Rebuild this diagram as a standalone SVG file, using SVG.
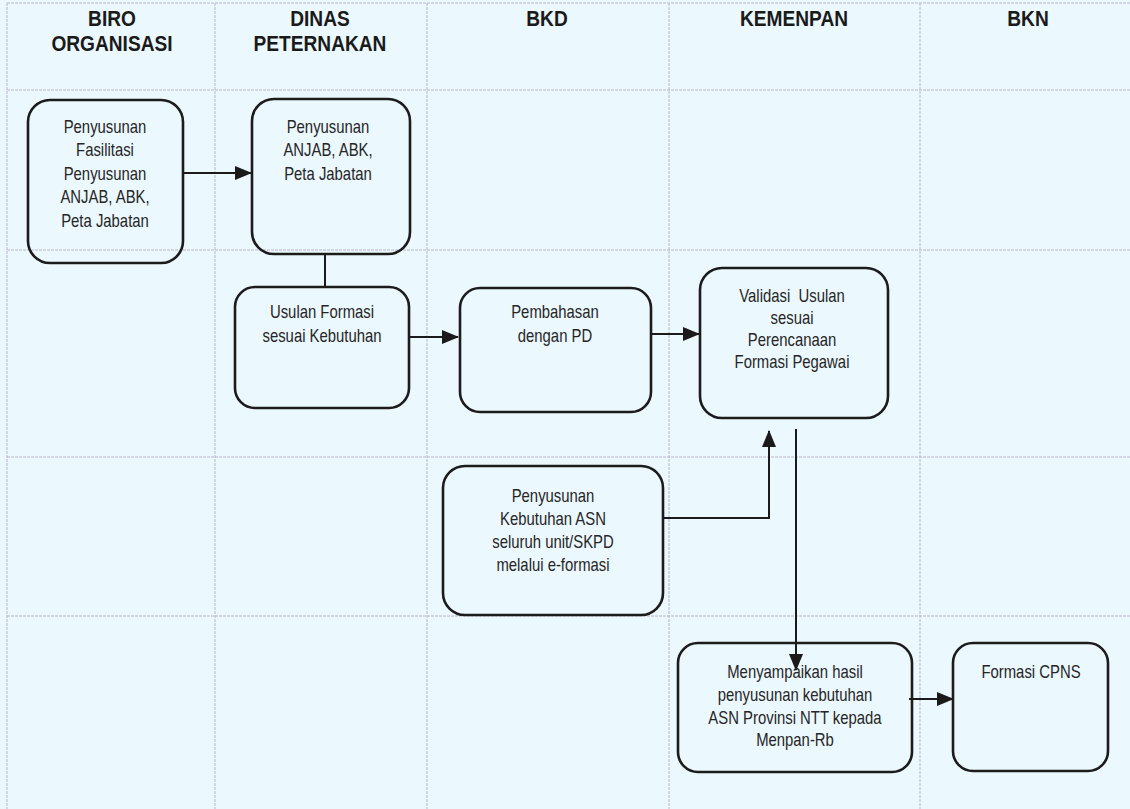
<svg xmlns="http://www.w3.org/2000/svg" width="1130" height="809" viewBox="0 0 1130 809">
<defs>
<style>
.bg{fill:#ebf8fd}
.grid{stroke:#b8b6cc;stroke-width:1;stroke-dasharray:3 1;fill:none}
.box{fill:none;stroke:#1c1c1c;stroke-width:2.6}
.hd{font-family:"Liberation Sans",Arial,sans-serif;font-weight:bold;font-size:22px;fill:#1a1a1a;text-anchor:middle}
.tx{font-family:"Liberation Sans",Arial,sans-serif;font-size:17.5px;fill:#262626;text-anchor:middle}
.ln{stroke:#1a1a1a;stroke-width:2;fill:none}
</style>
<marker id="ah" markerUnits="userSpaceOnUse" markerWidth="17" markerHeight="16" viewBox="0 0 17 16" refX="16" refY="8" orient="auto">
<path d="M0,1 L17,8 L0,15 Z" fill="#1a1a1a"/>
</marker>
</defs>
<rect class="bg" x="0" y="0" width="1130" height="809"/>
<g id="grid">
<line class="grid" x1="7" y1="3" x2="1130" y2="3"/>
<line class="grid" x1="7" y1="90" x2="1130" y2="90"/>
<line class="grid" x1="7" y1="250" x2="1130" y2="250"/>
<line class="grid" x1="7" y1="457" x2="1130" y2="457"/>
<line class="grid" x1="7" y1="616" x2="1130" y2="616"/>
<line class="grid" x1="7" y1="3" x2="7" y2="809"/>
<line class="grid" x1="215" y1="3" x2="215" y2="809"/>
<line class="grid" x1="427" y1="3" x2="427" y2="809"/>
<line class="grid" x1="669" y1="3" x2="669" y2="809"/>
<line class="grid" x1="920" y1="3" x2="920" y2="809"/>
</g>
<g id="headers">
<g transform="translate(112 0) scale(0.87 1)"><text class="hd" x="0" y="26">BIRO</text><text class="hd" x="0" y="51">ORGANISASI</text></g>
<g transform="translate(320 0) scale(0.87 1)"><text class="hd" x="0" y="26">DINAS</text><text class="hd" x="0" y="51">PETERNAKAN</text></g>
<g transform="translate(547 0) scale(0.87 1)"><text class="hd" x="0" y="26">BKD</text></g>
<g transform="translate(794 0) scale(0.87 1)"><text class="hd" x="0" y="26">KEMENPAN</text></g>
<g transform="translate(1028 0) scale(0.87 1)"><text class="hd" x="0" y="26">BKN</text></g>
</g>
<g id="connectors">
<line class="ln" x1="183" y1="173" x2="251" y2="173" marker-end="url(#ah)"/>
<line class="ln" x1="325" y1="254" x2="325" y2="287"/>
<line class="ln" x1="409" y1="337" x2="458" y2="337" marker-end="url(#ah)"/>
<line class="ln" x1="651" y1="334" x2="699" y2="334" marker-end="url(#ah)"/>
<polyline class="ln" points="663,518 769,518 769,431" marker-end="url(#ah)"/>
<line class="ln" x1="796" y1="429" x2="796" y2="670" marker-end="url(#ah)"/>
<line class="ln" x1="909" y1="699" x2="953" y2="699" marker-end="url(#ah)"/>
</g>
<g id="n1">
<rect class="box" x="28" y="100" width="155" height="163" rx="22"/>
<g transform="translate(105 0) scale(0.85 1)">
<text class="tx" x="0" y="133">Penyusunan</text>
<text class="tx" x="0" y="156">Fasilitasi</text>
<text class="tx" x="0" y="180">Penyusunan</text>
<text class="tx" x="0" y="203">ANJAB, ABK,</text>
<text class="tx" x="0" y="227">Peta Jabatan</text>
</g>
</g>
<g id="n2">
<rect class="box" x="252" y="99" width="158" height="155" rx="22"/>
<g transform="translate(328 0) scale(0.85 1)">
<text class="tx" x="0" y="133">Penyusunan</text>
<text class="tx" x="0" y="156">ANJAB, ABK,</text>
<text class="tx" x="0" y="180">Peta Jabatan</text>
</g>
</g>
<g id="n3">
<rect class="box" x="235" y="287" width="174" height="121" rx="20"/>
<g transform="translate(322 0) scale(0.85 1)">
<text class="tx" x="0" y="318">Usulan Formasi</text>
<text class="tx" x="0" y="342">sesuai Kebutuhan</text>
</g>
</g>
<g id="n4">
<rect class="box" x="460" y="288" width="191" height="124" rx="20"/>
<g transform="translate(555 0) scale(0.85 1)">
<text class="tx" x="0" y="318">Pembahasan</text>
<text class="tx" x="0" y="342">dengan PD</text>
</g>
</g>
<g id="n5">
<rect class="box" x="700" y="268" width="188" height="150" rx="22"/>
<g transform="translate(792 0) scale(0.85 1)">
<text class="tx" x="0" y="302" xml:space="preserve">Validasi  Usulan</text>
<text class="tx" x="0" y="324">sesuai</text>
<text class="tx" x="0" y="346">Perencanaan</text>
<text class="tx" x="0" y="368">Formasi Pegawai</text>
</g>
</g>
<g id="n6">
<rect class="box" x="443" y="466" width="220" height="149" rx="22"/>
<g transform="translate(553 0) scale(0.85 1)">
<text class="tx" x="0" y="502">Penyusunan</text>
<text class="tx" x="0" y="525">Kebutuhan ASN</text>
<text class="tx" x="0" y="548">seluruh unit/SKPD</text>
<text class="tx" x="0" y="571">melalui e-formasi</text>
</g>
</g>
<g id="n7">
<rect class="box" x="678" y="643" width="234" height="129" rx="20"/>
<g transform="translate(795 0) scale(0.85 1)">
<text class="tx" x="0" y="678">Menyampaikan hasil</text>
<text class="tx" x="0" y="701">penyusunan kebutuhan</text>
<text class="tx" x="0" y="724">ASN Provinsi NTT kepada</text>
<text class="tx" x="0" y="746">Menpan-Rb</text>
</g>
</g>
<g id="n8">
<rect class="box" x="953" y="643" width="155" height="128" rx="20"/>
<g transform="translate(1031 0) scale(0.85 1)">
<text class="tx" x="0" y="678">Formasi CPNS</text>
</g>
</g>
</svg>
